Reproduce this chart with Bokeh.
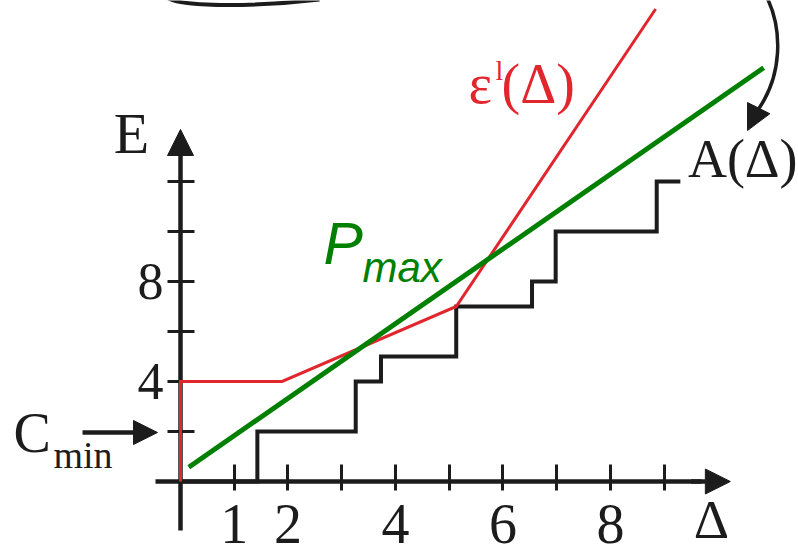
from bokeh.plotting import figure
from bokeh.models import (Range1d, FixedTicker, Arrow, NormalHead, Label)
from bokeh.embed import file_html
from bokeh.resources import INLINE

# Axis ticks and their labels
x_ticks = [1, 2, 3, 4, 5, 6, 7, 8, 9]
x_tick_labels = ["1", "2", "", "4", "", "6", "", "8", ""]
y_ticks = [2, 4, 6, 8, 10, 12]
y_tick_labels = ["", "4", "", "8", "", ""]

# A(Δ): staircase, each level holds from its x until the next step
a_step_x = [0, 1.43, 3.26, 3.73, 5.13, 6.54, 6.98, 8.86, 9.30]
a_step_E = [0, 2, 4, 5, 7, 8, 10, 12, 12]

# ε^l(Δ): lower envelope
eps_x = [0, 0, 1.89, 5.13, 8.84]
eps_E = [0, 4, 4, 7, 18.9]

# P_max line
pmax_x = [0.154, 10.85]
pmax_E = [0.57, 16.55]

# C_min level marked on the E axis
c_min = 2

BLACK = "#1c1c1c"
RED = "#e2262e"
GREEN = "#008000"
SERIF = "Liberation Serif"
SANS = "Liberation Sans"

p = figure(width=798, height=555, output_backend="svg", toolbar_location=None,
           x_range=Range1d(-3.349, 11.498), y_range=Range1d(-2.96, 19.24),
           min_border=0)
p.outline_line_color = None
p.grid.visible = False
p.background_fill_color = "white"
p.border_fill_color = "white"

# Axes crossing at the origin
xa = p.xaxis[0]
xa.fixed_location = 0
xa.level = "underlay"
xa.bounds = (-0.465, 9.7)
xa.ticker = FixedTicker(ticks=x_ticks)
xa.major_label_overrides = dict(zip(x_ticks, x_tick_labels))
xa.axis_line_width = 4.5
xa.axis_line_color = BLACK
xa.major_tick_line_width = 3
xa.major_tick_line_color = BLACK
xa.major_tick_in = 17
xa.major_tick_out = 9
xa.minor_tick_line_color = None
xa.major_label_text_font = SERIF
xa.major_label_text_font_size = "56px"
xa.major_label_text_color = BLACK
xa.major_label_standoff = 14

ya = p.yaxis[0]
ya.fixed_location = 0
ya.level = "underlay"
ya.bounds = (-1.96, 13.3)
ya.ticker = FixedTicker(ticks=y_ticks)
ya.major_label_overrides = dict(zip(y_ticks, y_tick_labels))
ya.axis_line_width = 4.5
ya.axis_line_color = BLACK
ya.major_tick_line_width = 3
ya.major_tick_line_color = BLACK
ya.major_tick_in = 14
ya.major_tick_out = 13
ya.minor_tick_line_color = None
ya.major_label_text_font = SERIF
ya.major_label_text_font_size = "52px"
ya.major_label_text_color = BLACK
ya.major_label_standoff = 4

# Arrow heads of the axes
p.add_layout(Arrow(x_start=9.5, y_start=0, x_end=10.23, y_end=0, line_width=4.5,
                   line_color=BLACK,
                   end=NormalHead(size=25, fill_color=BLACK, line_color=BLACK, line_width=1)))
p.add_layout(Arrow(x_start=0, y_start=13.2, x_end=0, y_end=14.08, line_width=4.5,
                   line_color=BLACK,
                   end=NormalHead(size=26, fill_color=BLACK, line_color=BLACK, line_width=1)))

# Series
p.step(a_step_x, a_step_E, mode="after", line_color=BLACK, line_width=4,
       line_join="miter")
p.line(eps_x, eps_E, line_color=RED, line_width=3, line_join="miter")
p.line(pmax_x, pmax_E, line_color=GREEN, line_width=5)

# Curved pointer to A(Δ)
p.bezier(x0=[-0.223], y0=[19.32], x1=[2.586], y1=[19.28],
         cx0=[0.093], cy0=[18.96], cx1=[1.488], cy1=[19.0],
         line_color=BLACK, line_width=4)
p.bezier(x0=[10.921], y0=[19.32], x1=[10.735], y1=[14.84],
         cx0=[11.2], cy0=[18.04], cx1=[11.2], cy1=[16.24],
         line_color=BLACK, line_width=3.5)
p.add_layout(Arrow(x_start=10.735, y_start=14.84, x_end=10.549, y_end=14.04,
                   line_width=3.5, line_color=BLACK,
                   end=NormalHead(size=25, fill_color=BLACK, line_color=BLACK, line_width=1)))

# C_min pointer
p.add_layout(Arrow(x_start=-1.823, y_start=c_min - 0.04, x_end=-0.428, y_end=c_min - 0.04,
                   line_width=4.5, line_color=BLACK,
                   end=NormalHead(size=24, fill_color=BLACK, line_color=BLACK, line_width=1)))


def label(x, y, text, size, color=BLACK, font=SERIF, style="normal", align="left"):
    p.add_layout(Label(x=x, y=y, text=text, text_font=font, text_font_size=size,
                       text_color=color, text_font_style=style, text_align=align,
                       text_baseline="alphabetic"))


label(-0.912, 13.94, "E", "58px", align="center")
label(9.879, -1.50, "Δ", "55px", align="center")
label(9.44, 12.89, "A(Δ)", "54px")
label(-3.107, 1.95, "C", "56px")
label(-2.363, 1.08, "min", "38px")
label(5.358, 15.91, "ε", "56px", color=RED)
label(5.86, 16.45, "l", "28px", color=RED)
label(5.972, 15.91, "(Δ)", "56px", color=RED)
label(2.66, 9.51, "P", "59px", color=GREEN, font=SANS, style="italic")
label(3.386, 8.58, "max", "42px", color=GREEN, font=SANS, style="italic")

open("out.html", "w").write(file_html(p, INLINE))
